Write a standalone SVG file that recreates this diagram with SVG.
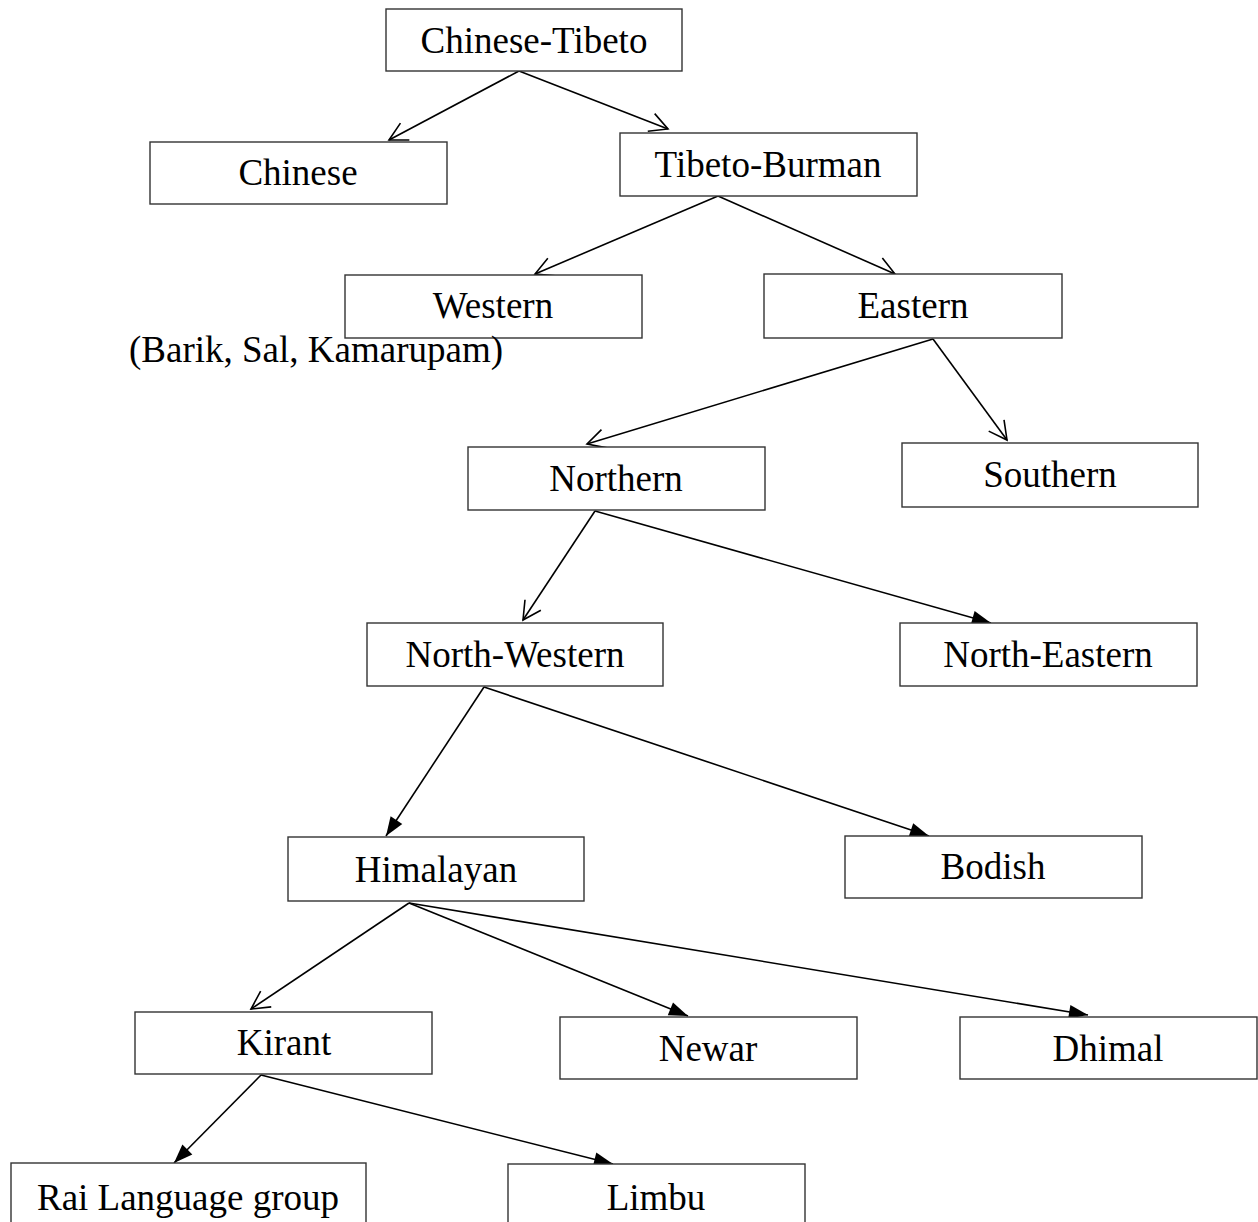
<svg xmlns="http://www.w3.org/2000/svg" width="1258" height="1222" viewBox="0 0 1258 1222">
<style>
  .box { fill: #ffffff; stroke: #333333; stroke-width: 1.4; }
  .lbl { font-family: "Liberation Serif", "Times New Roman", serif; font-size: 37px; fill: #000000; text-anchor: middle; }
  .note { font-family: "Liberation Serif", "Times New Roman", serif; font-size: 37px; fill: #000000; }
  .edge { fill: none; stroke: #000000; stroke-width: 1.6; }
  .open { marker-end: url(#openArrow); }
  .solid { marker-end: url(#solidArrow); }
</style>
<defs>
  <marker id="openArrow" markerUnits="userSpaceOnUse" markerWidth="24" markerHeight="24" viewBox="0 0 24 24" refX="21" refY="12" orient="auto">
    <path d="M3,2.5 L21,12 L3,21.5" fill="none" stroke="#000000" stroke-width="1.6"/>
  </marker>
  <marker id="solidArrow" markerUnits="userSpaceOnUse" markerWidth="24" markerHeight="24" viewBox="0 0 24 24" refX="21" refY="12" orient="auto">
    <path d="M2,5 L21,12 L2,19 Z" fill="#000000" stroke="none"/>
  </marker>
</defs>
<rect width="1258" height="1222" fill="#ffffff"/>

<g id="connectors">
  <line class="edge open" x1="519" y1="71" x2="389" y2="140"/>
  <line class="edge open" x1="519" y1="71" x2="668" y2="129"/>
  <line class="edge open" x1="718" y1="196" x2="535" y2="274"/>
  <line class="edge open" x1="718" y1="196" x2="895" y2="274"/>
  <line class="edge open" x1="933" y1="339" x2="587" y2="444"/>
  <line class="edge open" x1="933" y1="339" x2="1007" y2="440"/>
  <line class="edge open" x1="595" y1="511" x2="523" y2="620"/>
  <line class="edge solid" x1="595" y1="511" x2="991" y2="623"/>
  <line class="edge solid" x1="484" y1="687" x2="386" y2="836"/>
  <line class="edge solid" x1="484" y1="687" x2="929" y2="836"/>
  <line class="edge open" x1="409" y1="903" x2="251" y2="1009"/>
  <line class="edge solid" x1="409" y1="903" x2="688" y2="1016"/>
  <line class="edge solid" x1="409" y1="903" x2="1088" y2="1015"/>
  <line class="edge solid" x1="261" y1="1075" x2="174" y2="1163"/>
  <line class="edge solid" x1="261" y1="1075" x2="613" y2="1164"/>
</g>

<g id="node-chinese-tibeto">
  <rect class="box" x="386" y="9" width="296" height="62"/>
  <text class="lbl" x="534" y="53">Chinese-Tibeto</text>
</g>
<g id="node-chinese">
  <rect class="box" x="150" y="142" width="297" height="62"/>
  <text class="lbl" x="298" y="185">Chinese</text>
</g>
<g id="node-tibeto-burman">
  <rect class="box" x="620" y="133" width="297" height="63"/>
  <text class="lbl" x="768" y="177">Tibeto-Burman</text>
</g>
<g id="node-western">
  <rect class="box" x="345" y="275" width="297" height="63"/>
  <text class="lbl" x="493" y="318">Western</text>
</g>
<g id="note-western">
  <text class="note" x="129" y="362">(Barik, Sal, Kamarupam)</text>
</g>
<g id="node-eastern">
  <rect class="box" x="764" y="274" width="298" height="64"/>
  <text class="lbl" x="913" y="318">Eastern</text>
</g>
<g id="node-northern">
  <rect class="box" x="468" y="447" width="297" height="63"/>
  <text class="lbl" x="616" y="491">Northern</text>
</g>
<g id="node-southern">
  <rect class="box" x="902" y="443" width="296" height="64"/>
  <text class="lbl" x="1050" y="487">Southern</text>
</g>
<g id="node-north-western">
  <rect class="box" x="367" y="623" width="296" height="63"/>
  <text class="lbl" x="515" y="667">North-Western</text>
</g>
<g id="node-north-eastern">
  <rect class="box" x="900" y="623" width="297" height="63"/>
  <text class="lbl" x="1048" y="667">North-Eastern</text>
</g>
<g id="node-himalayan">
  <rect class="box" x="288" y="837" width="296" height="64"/>
  <text class="lbl" x="436" y="882">Himalayan</text>
</g>
<g id="node-bodish">
  <rect class="box" x="845" y="836" width="297" height="62"/>
  <text class="lbl" x="993" y="879">Bodish</text>
</g>
<g id="node-kirant">
  <rect class="box" x="135" y="1012" width="297" height="62"/>
  <text class="lbl" x="284" y="1055">Kirant</text>
</g>
<g id="node-newar">
  <rect class="box" x="560" y="1017" width="297" height="62"/>
  <text class="lbl" x="708" y="1061">Newar</text>
</g>
<g id="node-dhimal">
  <rect class="box" x="960" y="1017" width="297" height="62"/>
  <text class="lbl" x="1108" y="1061">Dhimal</text>
</g>
<g id="node-rai">
  <rect class="box" x="11" y="1163" width="355" height="70"/>
  <text class="lbl" x="188" y="1210">Rai Language group</text>
</g>
<g id="node-limbu">
  <rect class="box" x="508" y="1164" width="297" height="70"/>
  <text class="lbl" x="656" y="1210">Limbu</text>
</g>
</svg>
